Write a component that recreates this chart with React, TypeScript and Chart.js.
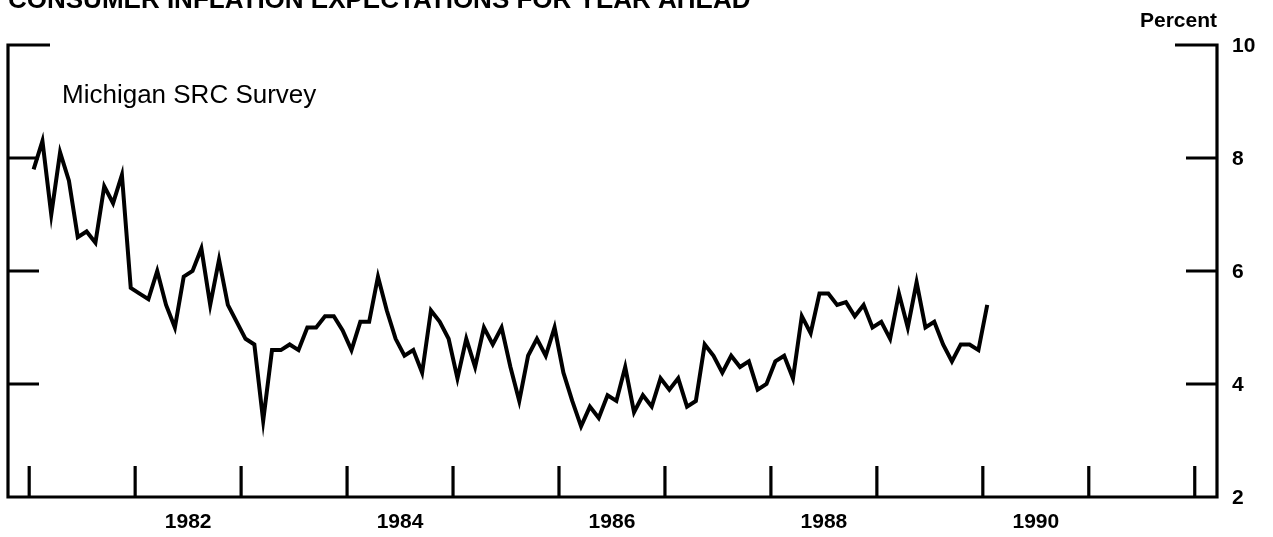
import { useEffect, useRef } from 'react';
import { Chart, registerables } from 'chart.js';

Chart.register(...registerables);

const TITLE = 'CONSUMER INFLATION EXPECTATIONS FOR YEAR AHEAD';
const SERIES_LABEL = 'Michigan SRC Survey';
const UNIT_LABEL = 'Percent';

const startYear = 1981;
// Monthly values, Jan 1981 .. Jan 1990
const values1981 = [7.8, 8.3, 7.0, 8.1, 7.6, 6.6, 6.7, 6.5, 7.5, 7.2, 7.7, 5.7];
const values1982 = [5.6, 5.5, 6.0, 5.4, 5.0, 5.9, 6.0, 6.4, 5.4, 6.2, 5.4, 5.1];
const values1983 = [4.8, 4.7, 3.35, 4.6, 4.6, 4.7, 4.6, 5.0, 5.0, 5.2, 5.2, 4.95];
const values1984 = [4.6, 5.1, 5.1, 5.9, 5.3, 4.8, 4.5, 4.6, 4.2, 5.3, 5.1, 4.8];
const values1985 = [4.1, 4.8, 4.3, 5.0, 4.7, 5.0, 4.3, 3.7, 4.5, 4.8, 4.5, 5.0];
const values1986 = [4.2, 3.7, 3.25, 3.6, 3.4, 3.8, 3.7, 4.3, 3.5, 3.8, 3.6, 4.1];
const values1987 = [3.9, 4.1, 3.6, 3.7, 4.7, 4.5, 4.2, 4.5, 4.3, 4.4, 3.9, 4.0];
const values1988 = [4.4, 4.5, 4.1, 5.2, 4.9, 5.6, 5.6, 5.4, 5.45, 5.2, 5.4, 5.0];
const values1989 = [5.1, 4.8, 5.6, 5.0, 5.8, 5.0, 5.1, 4.7, 4.4, 4.7, 4.7, 4.6];
const values1990 = [5.4];

const values = [
  ...values1981, ...values1982, ...values1983, ...values1984, ...values1985,
  ...values1986, ...values1987, ...values1988, ...values1989, ...values1990,
];

const yearTicks = [1981, 1982, 1983, 1984, 1985, 1986, 1987, 1988, 1989, 1990, 1991, 1992];
const yearLabels = [1982, 1984, 1986, 1988, 1990];
const yTicks = [2, 4, 6, 8, 10];

const xMin = 1980.8;
const xMax = 1992.21;
const yMin = 2;
const yMax = 10;

const FONT = '"Liberation Sans", Arial, Helvetica, sans-serif';

const framePlugin = {
  id: 'frame',
  afterDraw(chart: any) {
    const ctx = chart.ctx as CanvasRenderingContext2D;
    const xs = chart.scales.x;
    const ys = chart.scales.y;
    const { left, right, top, bottom } = chart.chartArea;
    ctx.save();
    ctx.strokeStyle = '#000';
    ctx.fillStyle = '#000';
    ctx.lineWidth = 3.2;
    ctx.lineJoin = 'miter';
    ctx.lineCap = 'butt';

    // frame (open top) with long top ticks
    ctx.beginPath();
    ctx.moveTo(left + 42, top);
    ctx.lineTo(left, top);
    ctx.lineTo(left, bottom);
    ctx.lineTo(right, bottom);
    ctx.lineTo(right, top);
    ctx.lineTo(right - 42, top);
    ctx.stroke();

    // y ticks on both sides
    ctx.beginPath();
    yTicks.forEach((v) => {
      if (v === yMin || v === yMax) return;
      const y = ys.getPixelForValue(v);
      ctx.moveTo(left, y);
      ctx.lineTo(left + 31, y);
      ctx.moveTo(right, y);
      ctx.lineTo(right - 31, y);
    });
    // x ticks (year starts)
    yearTicks.forEach((yr) => {
      const x = xs.getPixelForValue(yr);
      ctx.moveTo(x, bottom);
      ctx.lineTo(x, bottom - 31);
    });
    ctx.stroke();

    // y labels on right
    ctx.font = `bold 21px ${FONT}`;
    ctx.textAlign = 'left';
    ctx.textBaseline = 'middle';
    yTicks.forEach((v) => {
      ctx.fillText(String(v), right + 15, ys.getPixelForValue(v) + 1);
    });

    // x labels centred in the year
    ctx.textAlign = 'center';
    ctx.textBaseline = 'alphabetic';
    yearLabels.forEach((yr) => {
      ctx.fillText(String(yr), xs.getPixelForValue(yr + 0.5), 528);
    });

    // unit label
    ctx.textAlign = 'right';
    ctx.fillText(UNIT_LABEL, right, 27);

    // title (partly cut off at the top)
    ctx.font = `bold 26px ${FONT}`;
    ctx.textAlign = 'left';
    ctx.fillText(TITLE, 8, 8);

    // series label
    ctx.font = `26px ${FONT}`;
    ctx.fillText(SERIES_LABEL, 62, 103);

    ctx.restore();
  },
};

export default function App() {
  const ref = useRef<HTMLCanvasElement>(null);
  useEffect(() => {
    const canvas = ref.current;
    if (!canvas) return;
    const points = values.map((v, i) => ({ x: startYear + (i + 0.5) / 12, y: v }));
    const chart = new Chart(canvas, {
      type: 'line',
      data: {
        datasets: [
          {
            data: points,
            borderColor: '#000',
            backgroundColor: '#000',
            borderWidth: 4,
            pointRadius: 0,
            tension: 0,
            fill: false,
            borderJoinStyle: 'miter',
          },
        ],
      },
      options: {
        animation: false,
        responsive: false,
        devicePixelRatio: 1,
        layout: { padding: { left: 8, right: 56, top: 45, bottom: 40 } },
        scales: {
          x: { type: 'linear', min: xMin, max: xMax, display: false },
          y: { type: 'linear', min: yMin, max: yMax, display: false },
        },
        plugins: {
          legend: { display: false },
          tooltip: { enabled: false },
          title: { display: false },
        },
      },
      plugins: [framePlugin],
    });
    return () => chart.destroy();
  }, []);
  return (
    <div style={{ position: 'fixed', left: 0, top: 0, width: 1273, height: 537, background: '#fff' }}>
      <canvas ref={ref} width={1273} height={537} style={{ display: 'block' }} />
    </div>
  );
}
